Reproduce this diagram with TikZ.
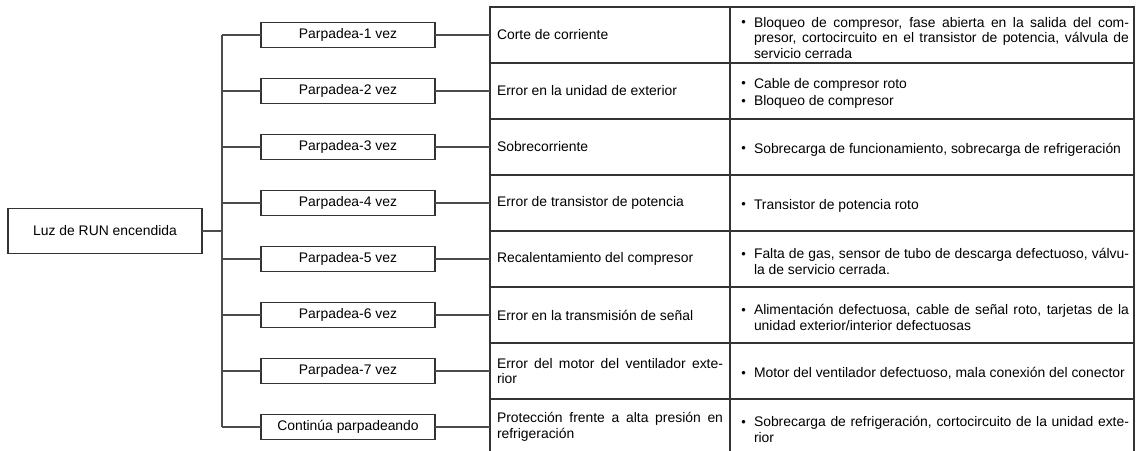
\documentclass[tikz,border=0pt]{standalone}
\usepackage{fontspec}
\setmainfont{Liberation Sans}
\usetikzlibrary{positioning,calc}

\hyphenpenalty=10000
\newcommand{\bul}[1]{\par\noindent\hangindent=9.5pt\hangafter=1\hspace*{3.2pt}\makebox[6.3pt][l]{\raisebox{0.3pt}{\fontsize{6.5}{6.5}\selectfont\textbullet}}#1\par}

\begin{document}
\begin{tikzpicture}[
  font=\fontsize{6.95}{7.7}\selectfont,
  cell/.style={
    draw=black!80,
    line width=0.6pt,
    outer sep=0pt,
    inner ysep=1pt,
    minimum height=28pt
  },
  cause/.style={cell, text width=113pt, inner xsep=3.5pt, align=justify},
  detail/.style={cell, text width=197pt, inner xsep=2.5pt, align=justify},
  blink/.style={
    draw=black!80,
    line width=0.6pt,
    outer sep=0pt,
    inner sep=0pt,
    minimum width=87pt,
    minimum height=12.5pt
  },
  root/.style={blink, minimum width=97pt, minimum height=22.5pt},
  wire/.style={draw=black!70, line width=0.6pt}
]

\useasboundingbox (0,0) rectangle (569.5pt,-225pt);

\node[cause, anchor=north west] (c1) at (245pt,-3.5pt) {Corte de corriente};
\node[cause, below=0pt of c1] (c2) {Error en la unidad de exterior};
\node[cause, below=0pt of c2] (c3) {Sobrecorriente};
\node[cause, below=0pt of c3] (c4) {Error de transistor de potencia};
\node[cause, below=0pt of c4] (c5) {Recalentamiento del compresor};
\node[cause, below=0pt of c5] (c6) {Error en la transmisi\'on de se\~nal};
\node[cause, below=0pt of c6] (c7) {Error del motor del ventilador exte-\linebreak rior};
\node[cause, below=0pt of c7] (c8) {Protecci\'on frente a alta presi\'on en\linebreak refrigeraci\'on};

\node[detail, right=0pt of c1] (d1) {\bul{Bloqueo de compresor, fase abierta en la salida del com-\linebreak presor, cortocircuito en el transistor de potencia, v\'alvula de\linebreak servicio cerrada}};
\node[detail, right=0pt of c2] (d2) {\bul{Cable de compresor roto}\vspace{1pt}\bul{Bloqueo de compresor}};
\node[detail, right=0pt of c3] (d3) {\bul{Sobrecarga de funcionamiento, sobrecarga de refrigeraci\'on}};
\node[detail, right=0pt of c4] (d4) {\bul{Transistor de potencia roto}};
\node[detail, right=0pt of c5] (d5) {\bul{Falta de gas, sensor de tubo de descarga defectuoso, v\'alvu-\linebreak la de servicio cerrada.}};
\node[detail, right=0pt of c6] (d6) {\bul{Alimentaci\'on defectuosa, cable de se\~nal roto, tarjetas de la\linebreak unidad exterior/interior defectuosas}};
\node[detail, right=0pt of c7] (d7) {\bul{Motor del ventilador defectuoso, mala conexi\'on del conector}};
\node[detail, right=0pt of c8] (d8) {\bul{Sobrecarga de refrigeraci\'on, cortocircuito de la unidad exte-\linebreak rior}};

\node[blink, left=27.5pt of c1] (p1) {Parpadea-1 vez};
\node[blink, left=27.5pt of c2] (p2) {Parpadea-2 vez};
\node[blink, left=27.5pt of c3] (p3) {Parpadea-3 vez};
\node[blink, left=27.5pt of c4] (p4) {Parpadea-4 vez};
\node[blink, left=27.5pt of c5] (p5) {Parpadea-5 vez};
\node[blink, left=27.5pt of c6] (p6) {Parpadea-6 vez};
\node[blink, left=27.5pt of c7] (p7) {Parpadea-7 vez};
\node[blink, left=27.5pt of c8] (p8) {Contin\'ua parpadeando};

\coordinate[left=19.5pt of p1.west] (b1);
\coordinate[left=19.5pt of p2.west] (b2);
\coordinate[left=19.5pt of p3.west] (b3);
\coordinate[left=19.5pt of p4.west] (b4);
\coordinate[left=19.5pt of p5.west] (b5);
\coordinate[left=19.5pt of p6.west] (b6);
\coordinate[left=19.5pt of p7.west] (b7);
\coordinate[left=19.5pt of p8.west] (b8);
\coordinate (bmid) at ($(b4)!0.5!(b5)$);

\node[root, left=10pt of bmid] (luz) {Luz de RUN encendida};

\draw[wire] (luz) -- (bmid);
\draw[wire] (b1) -- (b8);
\draw[wire] (b1) -- (p1) -- (c1);
\draw[wire] (b2) -- (p2) -- (c2);
\draw[wire] (b3) -- (p3) -- (c3);
\draw[wire] (b4) -- (p4) -- (c4);
\draw[wire] (b5) -- (p5) -- (c5);
\draw[wire] (b6) -- (p6) -- (c6);
\draw[wire] (b7) -- (p7) -- (c7);
\draw[wire] (b8) -- (p8) -- (c8);

\end{tikzpicture}
\end{document}
